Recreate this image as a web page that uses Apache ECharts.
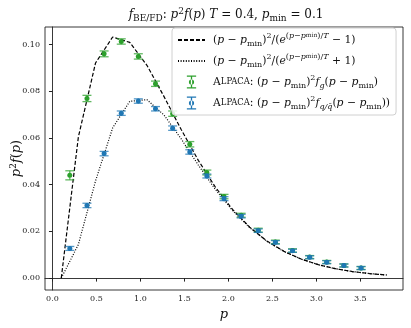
<!DOCTYPE html>
<html>
<head>
<meta charset="utf-8">
<script src="https://cdn.jsdelivr.net/npm/echarts@6/dist/echarts.min.js"></script>
<style>html,body{margin:0;padding:0;background:#fff;}#c{width:411px;height:328px;}</style>
</head>
<body>
<div id="c"></div>
<script>
// ---- data ----
const pCurve = [0.1, 0.2947, 0.4895, 0.6842, 0.8789, 1.0737, 1.2684, 1.4632, 1.6579, 1.8526, 2.0474, 2.2421, 2.4368, 2.6316, 2.8263, 3.0211, 3.2158, 3.4105, 3.6053, 3.8];
const boseCurve = [0, 0.0605, 0.0921, 0.1032, 0.1009, 0.0911, 0.0777, 0.0636, 0.0504, 0.0389, 0.0294, 0.0218, 0.0159, 0.01145, 0.00815, 0.00575, 0.00402, 0.00279, 0.00192, 0.00132];
const fermiCurve = [0, 0.0144, 0.0416, 0.0643, 0.0757, 0.0764, 0.0698, 0.0596, 0.0484, 0.0379, 0.0289, 0.0216, 0.0158, 0.0114, 0.00814, 0.00575, 0.00402, 0.00279, 0.00192, 0.00132];
const pPoints = [0.197, 0.392, 0.587, 0.782, 0.976, 1.171, 1.366, 1.561, 1.755, 1.950, 2.145, 2.339, 2.534, 2.729, 2.924, 3.118, 3.313, 3.508];
const gluonVals = [0.0440, 0.0769, 0.0960, 0.1013, 0.0949, 0.0832, 0.0704, 0.0573, 0.0452, 0.0349, 0.0269, 0.0205, 0.0155, 0.0118, 0.0090, 0.0069, 0.0054, 0.0043];
const gluonErr  = [0.0016, 0.0010, 0.0009, 0.0008, 0.0008, 0.0008, 0.0008, 0.0008, 0.0007, 0.0006, 0.0005, 0.0005, 0.0004, 0.0004, 0.0003, 0.0003, 0.0003, 0.0003];
const quarkVals = [0.0127, 0.0311, 0.0533, 0.0706, 0.0758, 0.0725, 0.0642, 0.0540, 0.0437, 0.0340, 0.0265, 0.0203, 0.0153, 0.0117, 0.0089, 0.0068, 0.0054, 0.0043];
const quarkErr  = [0.0005, 0.0006, 0.0006, 0.0006, 0.0006, 0.0006, 0.0006, 0.0006, 0.0005, 0.0005, 0.0004, 0.0004, 0.0004, 0.0003, 0.0003, 0.0003, 0.0003, 0.0003];
const xTicks = [0, 0.5, 1.0, 1.5, 2.0, 2.5, 3.0, 3.5];
const yTicks = [0, 0.02, 0.04, 0.06, 0.08, 0.10];

const SERIF = "'DejaVu Serif', 'Liberation Serif', serif";
const GREEN = '#2ca02c', BLUE = '#1f77b4';

function richSet(base) {
  const s = Math.round(base * 0.72);
  const b = {fontFamily: SERIF, fontWeight: 'normal', color: '#111'};
  return {
    n: Object.assign({fontSize: base, lineHeight: 16}, b),
    i: Object.assign({fontSize: base, fontStyle: 'italic', lineHeight: 16}, b),
    sc: Object.assign({fontSize: base * 0.78, lineHeight: 16}, b),
    sb: Object.assign({fontSize: s, lineHeight: 9, verticalAlign: 'bottom'}, b),
    sbi: Object.assign({fontSize: s, fontStyle: 'italic', lineHeight: 9, verticalAlign: 'bottom'}, b),
    sp: Object.assign({fontSize: s, lineHeight: 9, verticalAlign: 'top'}, b),
    spi: Object.assign({fontSize: s, fontStyle: 'italic', lineHeight: 9, verticalAlign: 'top'}, b),
    ssb: Object.assign({fontSize: Math.round(base * 0.55), lineHeight: 12, verticalAlign: 'top'}, b)
  };
}

const legendText = {
  bose: '{n|(}{i|p}{n| − }{i|p}{sb|min}{n|)}{sp|2}{n|/(}{i|e}{sp|(}{spi|p}{sp|−}{spi|p}{ssb|min}{sp|)/}{spi|T}{n| − 1)}',
  fermi: '{n|(}{i|p}{n| − }{i|p}{sb|min}{n|)}{sp|2}{n|/(}{i|e}{sp|(}{spi|p}{sp|−}{spi|p}{ssb|min}{sp|)/}{spi|T}{n| + 1)}',
  gluon: '{n|A}{sc|LPACA}{n|: (}{i|p}{n| − }{i|p}{sb|min}{n|)}{sp|2}{i|f}{sbi|g}{n|(}{i|p}{n| − }{i|p}{sb|min}{n|)}',
  quark: '{n|A}{sc|LPACA}{n|: (}{i|p}{n| − }{i|p}{sb|min}{n|)}{sp|2}{i|f}{sbi|q/q̄}{n|(}{i|p}{n| − }{i|p}{sb|min}{n|))}'
};

function errRender(color) {
  return function (params, api) {
    const x = api.value(0), y = api.value(1), e = api.value(2);
    const c = api.coord([x, y]);
    const t = api.coord([x, y + e]);
    const b = api.coord([x, y - e]);
    const cap = 4.5;
    const ls = {stroke: color, lineWidth: 1.3, opacity: 0.75};
    return {
      type: 'group',
      children: [
        {type: 'line', shape: {x1: c[0], y1: t[1] - 0.8, x2: c[0], y2: b[1] + 0.8}, style: ls},
        {type: 'line', shape: {x1: c[0] - cap, y1: t[1] - 0.8, x2: c[0] + cap, y2: t[1] - 0.8}, style: ls},
        {type: 'line', shape: {x1: c[0] - cap, y1: b[1] + 0.8, x2: c[0] + cap, y2: b[1] + 0.8}, style: ls},
        {type: 'circle', shape: {cx: c[0], cy: c[1], r: 2.5}, style: {fill: color}}
      ]
    };
  };
}

const errIcon = 'path://M0,0h10v1.4h-10z M4.3,0h1.4v14h-1.4z M0,12.6h10v1.4h-10z M2.2,7a2.8,2.8 0 1,0 5.6,0a2.8,2.8 0 1,0 -5.6,0z';
const noSym = {color: 'rgba(0,0,0,0)', borderWidth: 0, opacity: 0};

const chart = echarts.init(document.getElementById('c'), null, {renderer: 'canvas'});
const tr = richSet(12);
const lr = richSet(10.8);
const ar = richSet(13);
chart.setOption({
  animation: false,
  backgroundColor: '#fff',
  title: {
    text: '{i|f}{sb|BE/FD}{n|: }{i|p}{sp|2}{i|f}{n|(}{i|p}{n|) }{i|T}{n| = 0.4, }{i|p}{sb|min}{n| = 0.1}',
    left: 221, top: 2, textAlign: 'center',
    textStyle: {fontWeight: 'normal', rich: tr}
  },
  grid: {left: 45, right: 8, top: 27, bottom: 38, show: true, borderColor: '#222', borderWidth: 0.9,
    containLabel: false, outerBoundsMode: 'none'},
  legend: {
    left: 172, top: 28,
    orient: 'vertical',
    itemWidth: 27, itemHeight: 13, itemGap: 5,
    padding: [4, 6, 4, 5],
    backgroundColor: 'rgba(255,255,255,0.85)',
    borderColor: '#d0d0d0', borderWidth: 1, borderRadius: 3,
    data: [
      {name: 'bose', itemStyle: noSym}, {name: 'fermi', itemStyle: noSym},
      {name: 'gluon', icon: errIcon}, {name: 'quark', icon: errIcon}
    ],
    formatter: function (name) { return legendText[name]; },
    textStyle: {rich: lr, padding: [0, 0, 0, 3]}
  },
  xAxis: {
    type: 'value', min: -0.085, max: 3.985,
    name: '{i|p}', nameLocation: 'middle', nameGap: 17, nameMoveOverlap: false,
    nameTextStyle: {rich: ar},
    axisLine: {show: true, lineStyle: {color: '#222', width: 0.9}},
    axisTick: {show: true, length: 3.5, inside: false, customValues: xTicks, lineStyle: {color: '#222'}},
    axisLabel: {customValues: xTicks, fontFamily: SERIF, fontSize: 8, color: '#222', margin: 5,
      formatter: function (v) { return v.toFixed(1); }},
    splitLine: {show: false}
  },
  yAxis: {
    type: 'value', min: -0.0051, max: 0.1075,
    name: '{i|p}{sp|2}{i|f}{n|(}{i|p}{n|)}', nameLocation: 'middle', nameGap: 20, nameRotate: 90,
    nameMoveOverlap: false,
    nameTextStyle: {rich: ar},
    axisLine: {show: true, lineStyle: {color: '#222', width: 0.9}},
    axisTick: {show: true, length: 3.5, inside: false, customValues: yTicks, lineStyle: {color: '#222'}},
    axisLabel: {customValues: yTicks, fontFamily: SERIF, fontSize: 8, color: '#222', margin: 5,
      formatter: function (v) { return v.toFixed(2); }},
    splitLine: {show: false}
  },
  series: [
    {
      name: 'bose', type: 'line', symbol: 'none', z: 2,
      color: '#000',
      lineStyle: {color: '#000', width: 1.2, type: [4, 2]},
      data: pCurve.map(function (p, k) { return [p, boseCurve[k]]; })
    },
    {
      name: 'fermi', type: 'line', symbol: 'none', z: 2,
      color: '#000',
      lineStyle: {color: '#000', width: 1.2, type: [1, 1.6]},
      data: pCurve.map(function (p, k) { return [p, fermiCurve[k]]; })
    },
    {
      name: 'gluon', type: 'custom', z: 3, color: GREEN,
      itemStyle: {color: GREEN},
      renderItem: errRender(GREEN),
      encode: {x: 0, y: 1},
      data: pPoints.map(function (p, k) { return [p, gluonVals[k], gluonErr[k]]; })
    },
    {
      name: 'quark', type: 'custom', z: 4, color: BLUE,
      itemStyle: {color: BLUE},
      renderItem: errRender(BLUE),
      encode: {x: 0, y: 1},
      data: pPoints.map(function (p, k) { return [p, quarkVals[k], quarkErr[k]]; })
    }
  ]
});
</script>
</body>
</html>
